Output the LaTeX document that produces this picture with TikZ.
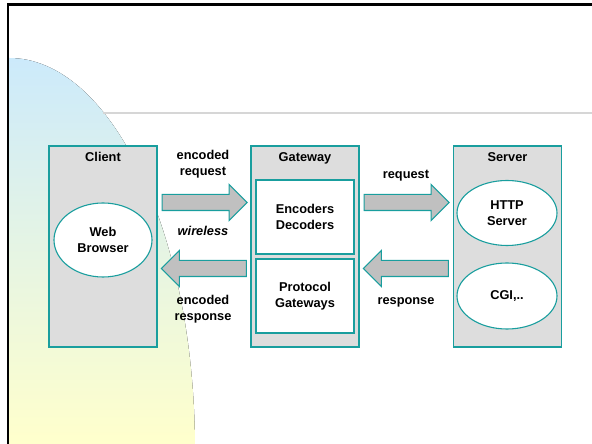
\documentclass[tikz,border=0pt]{standalone}
\usepackage{fontspec}
\setmainfont{Liberation Sans}
\usetikzlibrary{calc,positioning,shapes.geometric,shapes.arrows}
\definecolor{colorbd}{HTML}{199E9E}
\definecolor{colorbox}{HTML}{DDDDDD}
\definecolor{colorarr}{HTML}{C0C0C0}
\definecolor{colorsky}{HTML}{CCEAFB}
\definecolor{colorsun}{HTML}{FFFFCC}
\definecolor{colorrule}{HTML}{D6D6D6}
\tikzset{
  tier/.style={draw=colorbd, fill=colorbox, line width=1.1pt, minimum width=108, minimum height=201, inner sep=0pt},
  part/.style={draw=colorbd, fill=white, line width=1.1pt, minimum width=98, minimum height=74, align=center},
  comp/.style={ellipse, draw=colorbd, fill=white, line width=1.1pt, inner sep=0pt, align=center},
  fwd/.style={single arrow, draw=colorbd, fill=colorarr, line width=1.1pt, minimum height=85,
    inner xsep=0pt, inner ysep=7.5pt, single arrow head extend=10pt},
  back/.style={fwd, shape border rotate=180},
  lbl/.style={align=center, inner sep=0pt}
}

\begin{document}
\begin{tikzpicture}[x=1pt, y=1pt, font=\fontsize{12.8}{16}\selectfont\bfseries]
\useasboundingbox (0,0) rectangle (592,444);
% backdrop
\fill[top color=colorsky, bottom color=colorsun]
  (9,0) -- (9,386) arc[start angle=90, end angle=0.88, x radius=186, y radius=392] -- cycle;
\draw[colorrule, line width=1.2pt] (103,331) -- (592,331);
\draw[line width=2.5pt] (8,0) -- (8,439.5) -- (592,439.5);
% tiers
\node[tier] (client) at (103,197.5) {};
\node[tier] (gateway) at (305,197.5) {};
\node[tier] (server) at (507.5,197.5) {};
\node[anchor=base] (clientT) at (103,282) {Client};
\node[anchor=base] (gatewayT) at (305,282) {Gateway};
\node[anchor=base] (serverT) at (507.5,282) {Server};
% parts
\node[comp, minimum width=98, minimum height=74] (browser) at (103,204) {Web\\Browser};
\node[part] (codec) at (305,227) {Encoders\\Decoders};
\node[part] (protgw) at (305,148) {Protocol\\Gateways};
\node[comp, minimum width=100, minimum height=65] (http) at (507,231) {HTTP\\Server};
\node[comp, minimum width=100, minimum height=66] (cgi) at (507,148) {CGI,..};
% block arrows
\node[fwd, anchor=tail] (encreq) at ($(client.east)+(4,44)$) {};
\node[back, anchor=tip] (encresp) at ($(client.east)+(3,-22)$) {};
\node[fwd, anchor=tail] (req) at ($(gateway.east)+(4,44)$) {};
\node[back, anchor=tip] (resp) at ($(gateway.east)+(3,-22)$) {};
% labels
\node[lbl] (encreqL) at (203,280) {encoded\\request};
\node[lbl, anchor=base, font=\fontsize{12.8}{16}\selectfont\bfseries\itshape] (wireL) at (203,208) {wireless};
\node[lbl] (encrespL) at (203,135) {encoded\\response};
\node[lbl, anchor=base] (reqL) at (406,265) {request};
\node[lbl, anchor=base] (respL) at (406,139) {response};
\end{tikzpicture}
\end{document}
